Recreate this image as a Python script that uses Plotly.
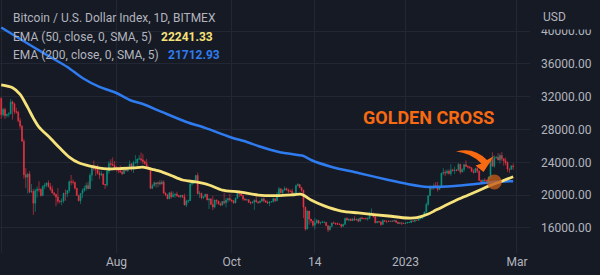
import pandas as pd
import plotly.graph_objects as go

# ---------------- data ----------------
start_date = "2022-06-01"
first_open = 31790

close = [
    # Jun 2022
    29800, 30450, 29700, 29860, 29910, 31370, 31130, 30200, 30110, 29080,
    28420, 26570, 22490, 22200, 22580, 20380, 20470, 19020, 20550, 20720,
    20710, 19970, 21090, 21230, 21500, 21030, 20730, 20280, 20100, 19780,
    # Jul
    19270, 19240, 19300, 20230, 20190, 20550, 21640, 21590, 21590, 20860,
    19970, 19330, 20210, 20570, 20830, 21190, 20780, 22430, 23400, 23230,
    23160, 22680, 22450, 22580, 21310, 21250, 22950, 23850, 23770, 23640, 23300,
    # Aug
    23270, 22990, 22820, 22620, 23310, 22950, 23180, 23810, 23160, 23950,
    23950, 24400, 24440, 24310, 24100, 23850, 23340, 23190, 20830, 21140,
    21520, 21400, 21530, 21370, 21600, 20260, 20040, 19550, 20290, 19800, 20050,
    # Sep
    20130, 19950, 19830, 19990, 19800, 18800, 19290, 19320, 21360, 21650,
    21830, 22400, 20170, 20230, 19700, 19800, 20110, 19420, 19540, 18880,
    18550, 19410, 19300, 18930, 18800, 19230, 19080, 19410, 19590, 19420,
    # Oct
    19310, 19060, 19620, 20340, 20160, 19960, 19530, 19420, 19450, 19130,
    19060, 19160, 19380, 19190, 19070, 19270, 19550, 19330, 19130, 19040,
    19170, 19210, 19570, 19330, 20090, 20770, 20290, 20600, 20810, 20630, 20490,
    # Nov
    20480, 20150, 20210, 21150, 21300, 20910, 20590, 18540, 15880, 18070,
    17090, 16850, 16330, 16620, 16900, 16600, 16690, 16700, 16700, 16280,
    15780, 16190, 16610, 16600, 16520, 16460, 16440, 16220, 16440, 17170,
    # Dec
    16970, 17090, 16890, 17110, 16970, 17090, 16840, 17230, 17130, 17130,
    17100, 17200, 17780, 17810, 17360, 16630, 16780, 16740, 16440, 16900,
    16830, 16820, 16780, 16840, 16830, 16920, 16710, 16550, 16630, 16600, 16540,
    # Jan 2023
    16610, 16670, 16670, 16850, 16830, 16950, 16940, 17120, 17180, 17440,
    17940, 18850, 19930, 20950, 20870, 21170, 21160, 20690, 21080, 22680,
    22780, 22710, 22920, 22630, 23060, 23010, 23080, 23030, 23770, 22840, 23140,
    # Feb
    23730, 23490, 23430, 23330, 22930, 22760, 23260, 22960, 21800, 21630,
    21860, 21790, 21780, 22200, 24330, 23520, 24570, 24630, 24290, 24840,
    24450, 24190, 23950, 23190, 23160, 23550, 23490,
]

high = [
    31980, 30650, 30670, 29940, 30150, 31740, 31550, 31300, 30660, 30300,
    29430, 28540, 26880, 23300, 22700, 22950, 21350, 20780, 20800, 21060,
    21700, 20840, 21180, 21500, 21560, 21800, 21500, 21170, 20400, 20140,
    20860, 19420, 19620, 20300, 20700, 20640, 21800, 22460, 21920, 21600,
    20870, 20040, 20250, 20820, 21150, 21530, 21650, 22680, 23640, 24220,
    23420, 23730, 22980, 22980, 22640, 21380, 23060, 24170, 24380, 24600, 24170,
    23500, 23450, 23630, 23220, 23450, 23350, 23400, 24240, 23940, 24200,
    24900, 24450, 24880, 25210, 25040, 24230, 24430, 23580, 23190, 21350,
    21680, 21500, 21650, 21850, 21800, 21820, 20330, 20140, 20360, 20520, 20450,
    20180, 20430, 20010, 20020, 20040, 20170, 19440, 19450, 21450, 21780,
    21850, 22480, 22750, 20500, 20300, 19850, 20180, 20080, 19630, 19620,
    19930, 19460, 19470, 19300, 19150, 19300, 20330, 19690, 19630, 20150,
    19480, 19390, 19690, 20470, 20360, 20440, 20050, 19620, 19560, 19530,
    19260, 19230, 19500, 19960, 19220, 19400, 19690, 19700, 19350, 19340,
    19250, 19250, 19690, 19600, 20400, 21000, 20850, 20720, 21060, 20920, 20810,
    20670, 20780, 20360, 21300, 21470, 21360, 21000, 20660, 18590, 18150,
    17640, 17080, 16880, 17180, 17100, 16990, 16710, 16900, 16800, 16740,
    16300, 16270, 16700, 16800, 16600, 16670, 16600, 16470, 16530, 17240,
    17320, 17100, 17160, 17200, 17420, 17110, 17140, 17290, 17350, 17220,
    17270, 17240, 18000, 18380, 17850, 17530, 16800, 16860, 16810, 17050,
    16910, 16870, 16940, 16860, 16860, 16940, 16960, 16780, 16650, 16630, 16640,
    16630, 16760, 16780, 16990, 16880, 16990, 16960, 17140, 17400, 17490,
    17990, 19100, 19990, 21220, 20990, 21440, 21610, 21620, 21160, 22740,
    23300, 23060, 23140, 23150, 23780, 23230, 23480, 23160, 23930, 23800, 23290,
    23800, 24250, 23640, 23580, 23430, 23150, 23340, 23430, 23000, 21900,
    21900, 22080, 21880, 22310, 24380, 25230, 24860, 24740, 25150, 25080,
    25260, 24460, 24580, 24130, 23210, 23670, 23870,
]

low = [
    29300, 29580, 29280, 29460, 29500, 29880, 29220, 29870, 29950, 28880,
    28100, 26560, 22000, 20850, 20180, 20240, 20300, 17600, 17970, 19700,
    20350, 19800, 19900, 20720, 20950, 20950, 20520, 20220, 19880, 18650,
    18970, 18990, 18780, 19060, 19320, 19770, 20260, 21200, 21320, 20680,
    19930, 19240, 18930, 19640, 20400, 20550, 20760, 20780, 21700, 23000,
    22350, 22540, 21950, 22300, 21280, 20750, 21060, 22600, 23480, 23530, 23140,
    22850, 22670, 22720, 22440, 22600, 22920, 22860, 23150, 22890, 22700,
    23900, 23600, 24300, 24100, 23800, 23720, 23230, 23100, 20800, 20860,
    21080, 20920, 20960, 21170, 21320, 20150, 19880, 19520, 19580, 19590, 19880,
    19670, 19780, 19700, 19620, 19650, 18760, 18560, 19030, 19300, 21130,
    21370, 21570, 20120, 19650, 19500, 19520, 19770, 19380, 18300, 18790,
    18170, 18390, 18860, 18870, 18660, 18700, 18860, 18500, 19080, 19240,
    19160, 18960, 19000, 19600, 19770, 19860, 19330, 19360, 19320, 19030,
    18860, 18990, 18200, 19080, 18990, 19070, 19170, 19120, 19090, 18930,
    18670, 19110, 19090, 19160, 19250, 20060, 20230, 20050, 20570, 20550, 20260,
    20360, 20060, 20050, 20190, 21080, 20890, 20400, 17200, 15650, 15800,
    16400, 16580, 16130, 15820, 16540, 16450, 16420, 16620, 16560, 16250,
    15480, 15700, 16170, 16500, 16350, 16400, 16400, 16010, 16110, 16430,
    16880, 16800, 16860, 16880, 16880, 16910, 16690, 16740, 17090, 17090,
    17070, 16880, 17080, 17660, 17280, 16580, 16580, 16670, 16260, 16400,
    16740, 16590, 16760, 16780, 16740, 16790, 16600, 16470, 16510, 16350, 16520,
    16500, 16560, 16610, 16650, 16760, 16690, 16910, 16910, 17110, 17150,
    17320, 17910, 18720, 19890, 20600, 20680, 20880, 20430, 20670, 20900,
    22450, 22320, 22540, 22500, 22370, 22890, 22570, 22900, 23010, 22570, 22760,
    22860, 23420, 23240, 23250, 22800, 22640, 22750, 22700, 21730, 21480,
    21600, 21620, 21370, 21540, 22050, 23510, 23350, 24450, 24260, 23860,
    24160, 23600, 23650, 22840, 22730, 23070, 23100,
]

ema50_dates = [
    "2022-06-01", "2022-06-07", "2022-06-11", "2022-06-15", "2022-06-18",
    "2022-06-21", "2022-06-27", "2022-07-02", "2022-07-07", "2022-07-12",
    "2022-07-18", "2022-07-27", "2022-08-03", "2022-08-10", "2022-08-15",
    "2022-08-20", "2022-08-25", "2022-08-30", "2022-09-05", "2022-09-12",
    "2022-09-19", "2022-09-26", "2022-10-05", "2022-10-15", "2022-10-25",
    "2022-11-03", "2022-11-07", "2022-11-12", "2022-11-19", "2022-11-28",
    "2022-12-07", "2022-12-23", "2023-01-02", "2023-01-07", "2023-01-13",
    "2023-01-16", "2023-01-22", "2023-01-27", "2023-02-03", "2023-02-10",
    "2023-02-15", "2023-02-21", "2023-02-27",
]
ema50_values = [
    33450, 33100, 32300, 30700, 29400,
    28300, 26950, 25750, 24650, 23950,
    23550, 23200, 23250, 23320, 23420,
    23150, 22850, 22400, 21850, 21610,
    21240, 20630, 20390, 20020, 19950,
    20050, 20110, 19420, 18700, 18070,
    17830, 17460, 17220, 17260, 17700,
    18050, 18750, 19300, 20000, 20700,
    21200, 21700, 22241,
]

ema200_dates = [
    "2022-06-01", "2022-06-18", "2022-06-27", "2022-07-06", "2022-07-14",
    "2022-07-23", "2022-08-01", "2022-08-08", "2022-08-15", "2022-08-25",
    "2022-09-07", "2022-09-17", "2022-09-30", "2022-10-09", "2022-10-15",
    "2022-10-26", "2022-11-05", "2022-11-08", "2022-11-12", "2022-11-23",
    "2022-12-07", "2022-12-23", "2023-01-02", "2023-01-13", "2023-01-27",
    "2023-02-07", "2023-02-17", "2023-02-27",
]
ema200_values = [
    40450, 38070, 36850, 35630, 34290,
    33200, 32460, 31610, 31120, 30150,
    28930, 28200, 27100, 26490, 26000,
    25270, 24900, 24780, 24290, 23440,
    22710, 21850, 21370, 21000, 21120,
    21370, 21610, 21713,
]

tick_dates = ["2022-06-01", "2022-08-01", "2022-10-01", "2022-11-14", "2023-01-01", "2023-03-01"]
tick_text = ["", "Aug", "Oct", "14", "2023", "Mar"]
price_ticks = [16000, 20000, 24000, 28000, 32000, 36000, 40000]

title_text = "Bitcoin / U.S. Dollar Index, 1D, BITMEX"
ema50_label = "EMA (50, close, 0, SMA, 5)"
ema200_label = "EMA (200, close, 0, SMA, 5)"
ema50_last = "22241.33"
ema200_last = "21712.93"
cross_date = "2023-02-17"
cross_price = 21610

# ---------------- styling ----------------
BG = "#161a25"
GRID = "#232733"
TEXT = "#b2b5be"
UP = "#089981"
DOWN = "#f23645"
YELLOW = "#f6e27a"
BLUE = "#2f7cf0"
ORANGE = "#f76a12"
FONT = "Roboto"

W, H = 600, 275
ML, MR, MT, MB = 0, 70, 0, 22
PW, PH = W - ML - MR, H - MT - MB


def px(xp):
    return xp / PW


def py(yp):
    return 1 - yp / PH


dates = pd.date_range(start_date, periods=len(close), freq="D")
open_ = [first_open] + close[:-1]

fig = go.Figure()
fig.add_trace(go.Candlestick(
    x=dates, open=open_, high=high, low=low, close=close,
    increasing=dict(line=dict(color=UP, width=0.6), fillcolor=UP),
    decreasing=dict(line=dict(color=DOWN, width=0.6), fillcolor=DOWN),
    whiskerwidth=0, hoverinfo="skip", showlegend=False,
))
fig.add_trace(go.Scatter(
    x=pd.to_datetime(ema200_dates), y=ema200_values, mode="lines",
    line=dict(color=BLUE, width=2.5, shape="spline", smoothing=0.8),
    hoverinfo="skip", showlegend=False,
))
fig.add_trace(go.Scatter(
    x=pd.to_datetime(ema50_dates), y=ema50_values, mode="lines",
    line=dict(color=YELLOW, width=2.8, shape="spline", smoothing=0.8),
    hoverinfo="skip", showlegend=False,
))

shapes = [
    # golden cross marker
    dict(type="circle", xref="x", yref="y", xsizemode="pixel", ysizemode="pixel",
         xanchor=cross_date, yanchor=cross_price, x0=-7.5, x1=7.5, y0=-7.5, y1=7.5,
         fillcolor="rgba(196,92,26,0.78)", line=dict(width=0), layer="above"),
    # curved arrow
    dict(type="path", xref="paper", yref="paper", layer="above",
         path=(f"M {px(456)},{py(151.5)} Q {px(474)},{py(146.5)} {px(487)},{py(160)} "
               f"L {px(494)},{py(156)} L {px(483.5)},{py(172)} L {px(475.5)},{py(165.5)} "
               f"L {px(481.5)},{py(163.5)} Q {px(470)},{py(152.5)} {px(456)},{py(151.5)} Z"),
         fillcolor=ORANGE, line=dict(width=0)),
]

annotations = [
    dict(text="GOLDEN CROSS", xref="paper", yref="paper", x=px(428.5), y=py(117),
         xanchor="center", yanchor="middle", showarrow=False,
         font=dict(family=FONT, size=18, color=ORANGE, weight="bold")),
    dict(text=title_text, xref="paper", yref="paper", x=px(11), y=py(18),
         xanchor="left", yanchor="middle", showarrow=False,
         font=dict(family=FONT, size=12, color=TEXT)),
    dict(text=ema50_label, xref="paper", yref="paper", x=px(11), y=py(36.5),
         xanchor="left", yanchor="middle", showarrow=False,
         font=dict(family=FONT, size=12, color=TEXT)),
    dict(text=ema50_last, xref="paper", yref="paper", x=px(159), y=py(36.5),
         xanchor="left", yanchor="middle", showarrow=False,
         font=dict(family=FONT, size=12, color=YELLOW, weight="bold")),
    dict(text=ema200_label, xref="paper", yref="paper", x=px(11), y=py(55),
         xanchor="left", yanchor="middle", showarrow=False,
         font=dict(family=FONT, size=12, color=TEXT)),
    dict(text=ema200_last, xref="paper", yref="paper", x=px(165.5), y=py(55),
         xanchor="left", yanchor="middle", showarrow=False,
         font=dict(family=FONT, size=12, color=BLUE, weight="bold")),
    # price-scale header that hides the top of the scale
    dict(text="", xref="paper", yref="paper", x=px(531), y=1, xanchor="left", yanchor="top",
         width=69, height=27.5, bgcolor=BG, borderpad=0, showarrow=False),
    dict(text="USD", xref="paper", yref="paper", x=px(541), y=py(17),
         xanchor="left", yanchor="middle", showarrow=False,
         font=dict(family=FONT, size=12, color=TEXT)),
]

fig.update_layout(
    width=W, height=H,
    margin=dict(l=ML, r=MR, t=MT, b=MB, pad=0),
    paper_bgcolor=BG, plot_bgcolor=BG,
    shapes=shapes, annotations=annotations,
    showlegend=False, hovermode=False,
    font=dict(family=FONT, size=12, color=TEXT),
    xaxis=dict(
        type="date",
        range=["2022-05-31 08:24", "2023-03-07 21:36"],
        tickvals=tick_dates, ticktext=tick_text,
        showgrid=True, gridcolor=GRID, gridwidth=1,
        zeroline=False, showline=False, ticks="",
        rangeslider=dict(visible=False),
        tickfont=dict(family=FONT, size=12, color=TEXT),
        fixedrange=True,
    ),
    yaxis=dict(
        side="right", range=[12950, 43800],
        tickvals=price_ticks, ticktext=[f"{v:.2f}" for v in price_ticks],
        showgrid=True, gridcolor=GRID, gridwidth=1,
        zeroline=False, showline=False, ticks="",
        ticklabelstandoff=10,
        tickfont=dict(family=FONT, size=12, color=TEXT),
        fixedrange=True,
    ),
)

fig.write_html("out.html", config={"displayModeBar": False, "staticPlot": True})
